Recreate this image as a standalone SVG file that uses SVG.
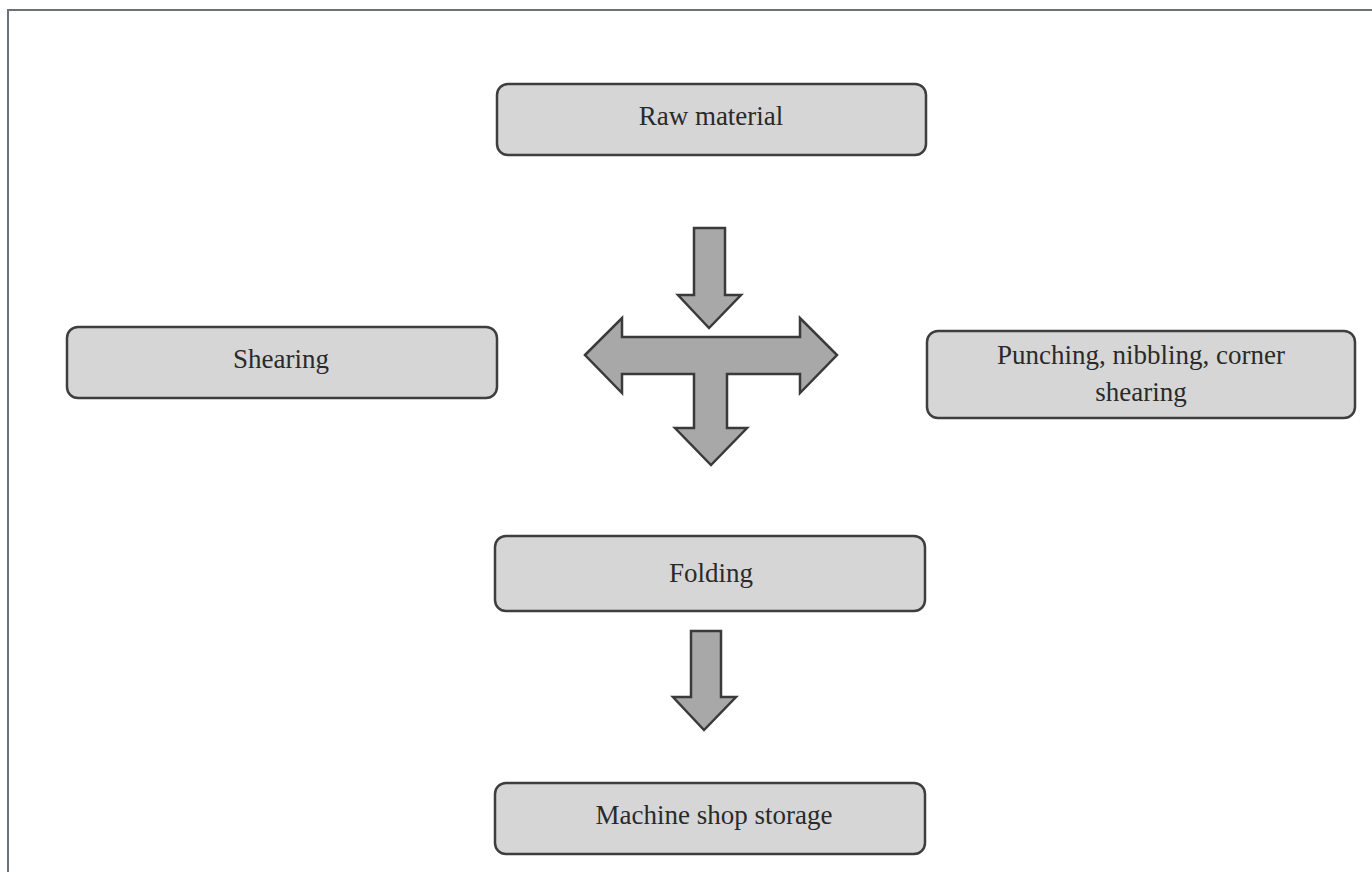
<svg xmlns="http://www.w3.org/2000/svg" width="1372" height="872" viewBox="0 0 1372 872">
<style>
.box{fill:#d6d6d6;stroke:#3e3e3e;stroke-width:2.5}
.arr{fill:#a8a8a8;stroke:#3a3a3a;stroke-width:2.5;stroke-linejoin:miter}
.lbl{font-family:"Liberation Serif","Times New Roman",serif;font-size:27px;fill:#2a2a2a;text-anchor:middle}
.frame{stroke:#6b7378;stroke-width:2;fill:none}
</style>
<rect width="1372" height="872" fill="#ffffff"/>
<path class="frame" d="M8,872 V10 H1372"/>
<g id="raw-material">
<rect class="box" x="497" y="84" width="429" height="71" rx="11"/>
<text class="lbl" x="711" y="125">Raw material</text>
</g>
<g id="shearing">
<rect class="box" x="67" y="327" width="430" height="71" rx="11"/>
<text class="lbl" x="281" y="368">Shearing</text>
</g>
<g id="punching">
<rect class="box" x="927" y="331" width="428" height="87" rx="11"/>
<text class="lbl" x="1141" y="364">Punching, nibbling, corner</text>
<text class="lbl" x="1141" y="401">shearing</text>
</g>
<g id="folding">
<rect class="box" x="495" y="536" width="430" height="75" rx="11"/>
<text class="lbl" x="711" y="582">Folding</text>
</g>
<g id="machine-shop-storage">
<rect class="box" x="495" y="783" width="430" height="71" rx="11"/>
<text class="lbl" x="714" y="824">Machine shop storage</text>
</g>
<g id="connectors">
<path class="arr" d="M694,228 H725 V295 H741 L709,328 L678,295 H694 Z"/>
<path class="arr" d="M585,355 L622,318 V337 H800 V318 L837,355 L800,393 V374 H727 V428 H747 L711,465 L675,428 H694 V374 H622 V393 Z"/>
<path class="arr" d="M691,631 H721 V697 H736 L704,730 L673,697 H691 Z"/>
</g>
</svg>
